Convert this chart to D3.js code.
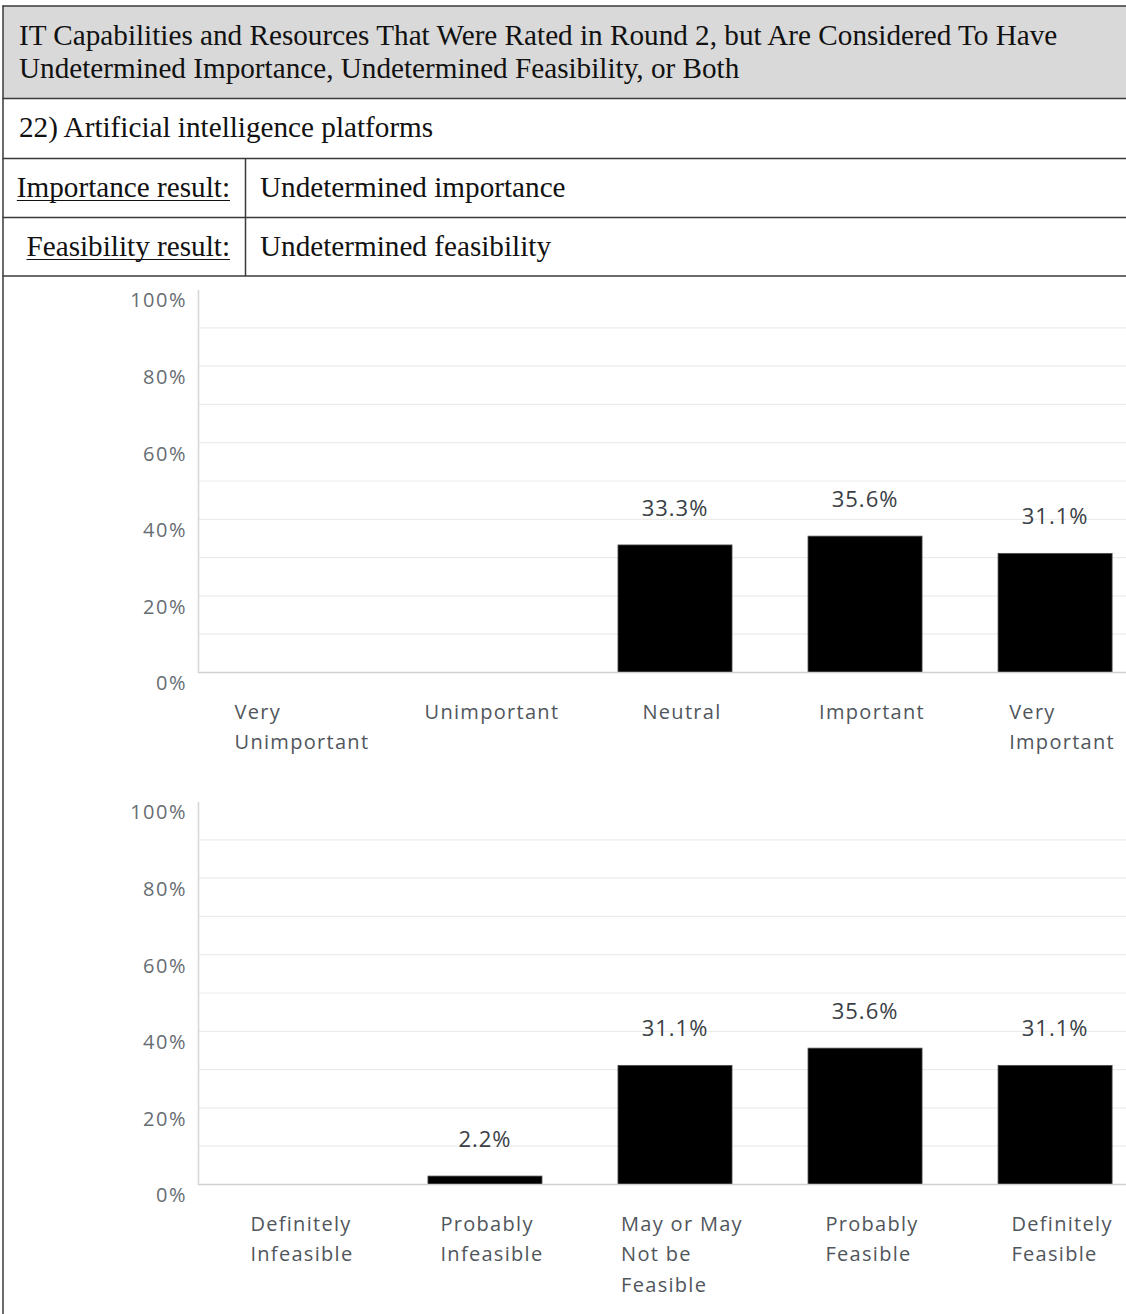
<!DOCTYPE html>
<html>
<head>
<meta charset="utf-8">
<script src="https://cdn.jsdelivr.net/npm/d3@7"></script>
<style>
  body { margin: 0; background: #fff; }
  svg { display: block; }
</style>
</head>
<body>
<svg id="page" width="1126" height="1314"></svg>
<script>
// ---- table text ----
const titleLines = [
  "IT Capabilities and Resources That Were Rated in Round 2, but Are Considered To Have",
  "Undetermined Importance, Undetermined Feasibility, or Both"
];
const itemLabel = "22) Artificial intelligence platforms";
const resultLabels = ["Importance result:", "Feasibility result:"];
const resultValues = ["Undetermined importance", "Undetermined feasibility"];

// ---- chart data (percent of respondents) ----
const importanceCategories = ["Very\nUnimportant", "Unimportant", "Neutral", "Important", "Very\nImportant"];
const importanceValues = [0, 0, 33.3, 35.6, 31.1];
const feasibilityCategories = ["Definitely\nInfeasible", "Probably\nInfeasible", "May or May\nNot be\nFeasible", "Probably\nFeasible", "Definitely\nFeasible"];
const feasibilityValues = [0, 2.2, 31.1, 35.6, 31.1];
const yTickValues = [0, 20, 40, 60, 80, 100];
const yGridValues = [10, 20, 30, 40, 50, 60, 70, 80, 90];

const svg = d3.select("#page");
const W = 1126, H = 1314;
const serif = "'Liberation Serif', 'Times New Roman', serif";
const sans = "'Open Sans', 'Noto Sans', sans-serif";
const ruleColor = "#3a3a3a";
const serifSize = 29.2;

// ---- table frame ----
const table = svg.append("g").attr("class", "table");
table.append("rect").attr("x", 3).attr("y", 6).attr("width", W).attr("height", 92).attr("fill", "#d9d9d9");
[6, 98.5, 158.5, 217.5, 276].forEach(y => {
  table.append("line").attr("x1", 2.5).attr("x2", W).attr("y1", y).attr("y2", y)
    .attr("stroke", ruleColor).attr("stroke-width", 1.5);
});
table.append("line").attr("x1", 3).attr("x2", 3).attr("y1", 5.5).attr("y2", H)
  .attr("stroke", ruleColor).attr("stroke-width", 1.5);
table.append("line").attr("x1", 245.5).attr("x2", 245.5).attr("y1", 158.5).attr("y2", 276)
  .attr("stroke", ruleColor).attr("stroke-width", 1.5);

table.selectAll("text.title").data(titleLines).join("text")
  .attr("class", "title")
  .attr("x", 19).attr("y", (d, i) => 45 + i * 33)
  .attr("font-family", serif).attr("font-size", serifSize).attr("fill", "#111")
  .text(d => d);

table.append("text").attr("x", 19).attr("y", 137)
  .attr("font-family", serif).attr("font-size", serifSize).attr("fill", "#111")
  .text(itemLabel);

resultLabels.forEach((lab, i) => {
  const y = 197 + i * 59;
  const t = table.append("text").attr("x", 230).attr("y", y)
    .attr("text-anchor", "end")
    .attr("font-family", serif).attr("font-size", serifSize).attr("fill", "#111")
    .text(lab);
  const w = t.node().getComputedTextLength();
  table.append("line").attr("x1", 230 - w).attr("x2", 230).attr("y1", y + 3.5).attr("y2", y + 3.5)
    .attr("stroke", "#111").attr("stroke-width", 1.2);
  table.append("text").attr("x", 260).attr("y", y)
    .attr("font-family", serif).attr("font-size", serifSize).attr("fill", "#111")
    .text(resultValues[i]);
});

// ---- bar charts ----
function drawChart(categories, values, yBase, yTop) {
  const g = svg.append("g").attr("class", "chart");
  const x = d3.scaleBand().domain(categories).range([198, 1152])
    .paddingInner(0.4).paddingOuter(0.21);
  const y = d3.scaleLinear().domain([0, 100]).range([yBase, yTop]);

  // light horizontal gridlines
  g.selectAll("line.grid").data(yGridValues).join("line")
    .attr("class", "grid")
    .attr("x1", 198).attr("x2", W)
    .attr("y1", d => y(d)).attr("y2", d => y(d))
    .attr("stroke", "#ececec").attr("stroke-width", 1.2);

  // y axis with percentage labels set just below each gridline
  const yAxis = g.append("g").attr("transform", "translate(198,0)")
    .call(d3.axisLeft(y).tickValues(yTickValues).tickFormat(d => d + "%")
      .tickSize(0).tickSizeOuter(0).tickPadding(11));
  yAxis.select(".domain").attr("stroke", "#d6d6d6").attr("stroke-width", 1.5);
  yAxis.selectAll("text")
    .attr("y", 11)
    .attr("font-family", sans).attr("font-size", 20).attr("letter-spacing", 1.5)
    .attr("fill", "#676d73");

  // bars
  g.selectAll("rect.bar").data(values).join("rect")
    .attr("class", "bar")
    .attr("x", (d, i) => x(categories[i]))
    .attr("width", x.bandwidth())
    .attr("y", d => y(d))
    .attr("height", d => y(0) - y(d))
    .attr("fill", "#000")
    .attr("stroke", "#4a4a4a").attr("stroke-width", 0.8);

  // x axis baseline and wrapped category labels
  const xAxis = g.append("g").attr("transform", `translate(0,${yBase})`)
    .call(d3.axisBottom(x).tickSize(0).tickSizeOuter(0).tickFormat(() => ""));
  xAxis.select(".domain").attr("stroke", "#d0d0d0").attr("stroke-width", 1.5)
    .attr("d", `M198,0H${W}`);
  xAxis.selectAll(".tick text").each(function (d) {
    const text = d3.select(this)
      .attr("y", 0).attr("dy", null)
      .attr("text-anchor", "start")
      .attr("font-family", sans).attr("font-size", 20).attr("letter-spacing", 1.3)
      .attr("fill", "#50565c");
    const lines = d.split("\n");
    const spans = lines.map((line, k) => text.append("tspan")
      .attr("y", 38.5 + k * 30.5).attr("dominant-baseline", "central").text(line));
    const widest = d3.max(spans, s => s.node().getComputedTextLength());
    spans.forEach(s => s.attr("x", 7 - widest / 2));
  });

  // value labels above non-empty bars
  g.selectAll("text.value").data(values.map((v, i) => ({ v, c: categories[i] })).filter(d => d.v > 0))
    .join("text")
    .attr("class", "value")
    .attr("x", d => x(d.c) + x.bandwidth() / 2)
    .attr("y", d => y(d.v) - 38)
    .attr("text-anchor", "middle").attr("dominant-baseline", "central")
    .attr("font-family", sans).attr("font-size", 22).attr("letter-spacing", 1)
    .attr("fill", "#3a4045")
    .text(d => d.v.toFixed(1) + "%");
}

drawChart(importanceCategories, importanceValues, 672.5, 289.5);
drawChart(feasibilityCategories, feasibilityValues, 1184.5, 801.5);
</script>
</body>
</html>
